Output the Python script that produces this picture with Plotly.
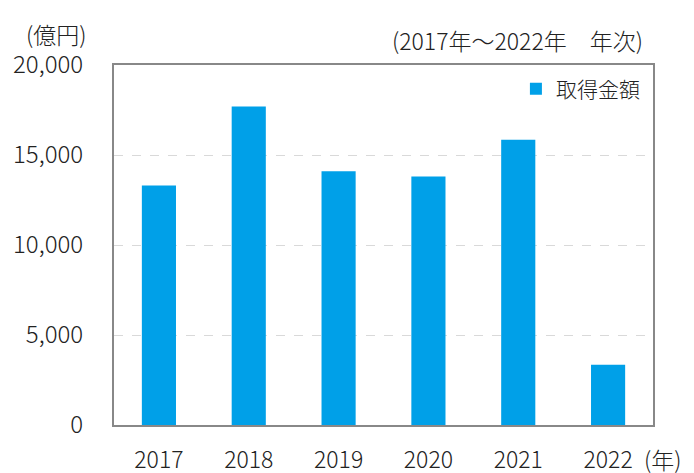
import plotly.graph_objects as go

years = ["2017", "2018", "2019", "2020", "2021", "2022"]
amounts = [13300, 17700, 14100, 13800, 15850, 3350]
series_name = "取得金額"
y_ticks = [0, 5000, 10000, 15000, 20000]
y_tick_labels = ["0", "5,000", "10,000", "15,000", "20,000"]

FONT = "Noto Sans CJK JP"
W = 300
fig = go.Figure()
fig.add_trace(go.Bar(x=years, y=amounts, name=series_name, marker_color="#00A0E8",
                     marker_line_width=0, showlegend=True))

fig.update_layout(
    width=694, height=473,
    margin=dict(l=114, r=41, t=65, b=48, autoexpand=False),
    paper_bgcolor="white", plot_bgcolor="white",
    font=dict(family=FONT, size=24, color="#222", weight=W),
    bargap=0.62,
    showlegend=True,
    legend=dict(x=0.985, y=0.99, xanchor="right", yanchor="top",
                bgcolor="rgba(0,0,0,0)", font=dict(size=21, weight=W), itemwidth=30),
)
fig.update_xaxes(type="category", showline=True, linecolor="#888", linewidth=2, mirror=True,
                 ticks="outside", ticklen=13, tickcolor="rgba(0,0,0,0)", automargin=False,
                 showgrid=False, tickfont=dict(size=23, weight=W))
fig.update_yaxes(range=[0, 20000], tickvals=y_ticks, ticktext=y_tick_labels,
                 showline=True, linecolor="#888", linewidth=2, mirror=True,
                 showgrid=True, gridcolor="#d9d9d9", griddash="dash", gridwidth=1,
                 ticks="outside", ticklen=24, tickcolor="rgba(0,0,0,0)", automargin=False,
                 zeroline=False, tickfont=dict(size=24, weight=W))

fig.add_annotation(text="(億円)", xref="paper", yref="paper", x=-0.1076, y=1.085,
                   showarrow=False, xanchor="center", yanchor="middle", font=dict(size=23, weight=W))
fig.add_annotation(text="(2017年～2022年　年次)", xref="paper", yref="paper", x=0.985, y=1.069,
                   showarrow=False, xanchor="right", yanchor="middle", font=dict(size=23, weight=W))
fig.add_annotation(text="(年)", xref="paper", yref="paper", x=0.98, y=-0.094,
                   showarrow=False, xanchor="left", yanchor="middle", font=dict(size=23, weight=W))

fig.write_html("out.html", config={"displayModeBar": False},
               post_script="document.body.style.margin='0';")
